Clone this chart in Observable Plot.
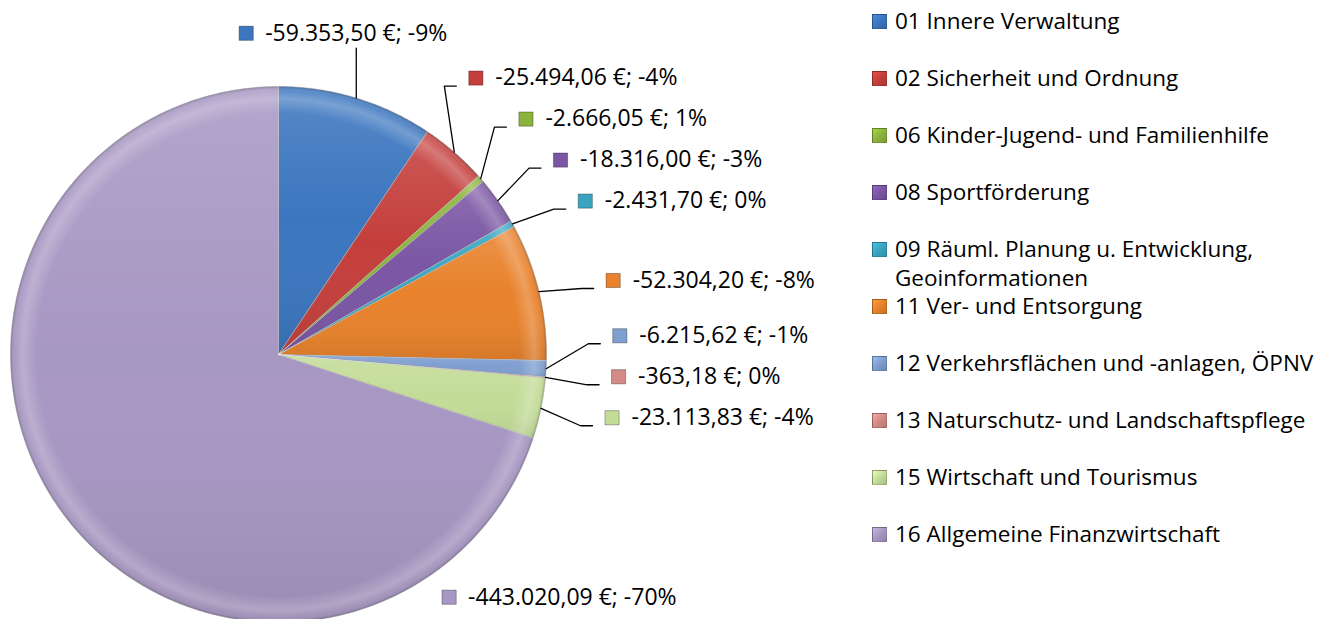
<!DOCTYPE html>
<html>
<head>
<meta charset="utf-8">
<script src="https://cdn.jsdelivr.net/npm/d3@7"></script>
<script src="https://cdn.jsdelivr.net/npm/@observablehq/plot@0.6"></script>
<style>
  html, body { margin: 0; padding: 0; background: #fff; }
  #chart { position: relative; width: 1318px; height: 619px; overflow: hidden; font-family: "Open Sans", sans-serif; }
  #chart svg { position: absolute; left: 0; top: 0; }
  .lg-item { position: absolute; left: 872px; line-height: 28.5px; font-size: 22.5px; color: #000; white-space: nowrap; }
  .lg-sw { position: absolute; left: 0; top: 7px; width: 15px; height: 15px; box-sizing: border-box; border: 1px solid rgba(0,0,0,0.25); }
  .lg-tx { margin-left: 23px; }
</style>
</head>
<body>
<div id="chart"></div>
<script>
// ---------- data ----------
const categories = [
  "01 Innere Verwaltung",
  "02 Sicherheit und Ordnung",
  "06 Kinder-Jugend- und Familienhilfe",
  "08 Sportförderung",
  "09 Räuml. Planung u. Entwicklung, Geoinformationen",
  "11 Ver- und Entsorgung",
  "12 Verkehrsflächen und -anlagen, ÖPNV",
  "13 Naturschutz- und Landschaftspflege",
  "15 Wirtschaft und Tourismus",
  "16 Allgemeine Finanzwirtschaft"
];
const values = [-59353.50, -25494.06, -2666.05, -18316.00, -2431.70, -52304.20, -6215.62, -363.18, -23113.83, -443020.09];
const percentLabels = [-9, -4, 1, -3, 0, -8, -1, 0, -4, -70];
const colors = ["#3b76bf", "#c43f3c", "#8cb43c", "#7a56a4", "#39a5c2", "#e8822c", "#7f9fd0", "#d48a87", "#c3dc98", "#a797c3"];

// ---------- layout constants (pixels) ----------
const W = 1318, H = 619, CX = 278, CY = 354, RPX = 268;
const FONT = 23, LEGEND_FONT = 22.5, LEGEND_TEXT_W = 425;
const px = n => n / RPX;

const loc = d3.formatLocale({decimal: ",", thousands: ".", grouping: [3], currency: ["", " €"], minus: "-"});
const fmt = loc.format(",.2f");

// ---------- slices ----------
const total = d3.sum(values, v => Math.abs(v));
let acc = 0;
const slices = values.map((v, i) => {
  const a0 = acc / total * 2 * Math.PI;
  acc += Math.abs(v);
  const a1 = acc / total * 2 * Math.PI;
  return {i, name: categories[i], value: v, pct: percentLabels[i], a0, a1, mid: (a0 + a1) / 2};
});
const slicePts = slices.flatMap(s => {
  const n = Math.max(2, Math.ceil((s.a1 - s.a0) / (Math.PI / 360)));
  const pts = [{name: s.name, x: 0, y: 0}];
  for (let j = 0; j <= n; j++) {
    const a = s.a0 + (s.a1 - s.a0) * j / n;
    pts.push({name: s.name, x: Math.sin(a), y: Math.cos(a)});
  }
  pts.push({name: s.name, x: 0, y: 0});
  return pts;
});

// ---------- labels (computed placement) ----------
const ctx = document.createElement("canvas").getContext("2d");
ctx.font = `${FONT}px 'Open Sans'`;
const overrides = {9: {angle: 142, r: 308}};
const labels = slices.map(s => ({...s, text: `${fmt(s.value)} €; ${s.pct}%`}));
const right = [];
const leaderPts = [];
labels.forEach(l => {
  const sx = Math.sin(l.mid), sy = Math.cos(l.mid);
  l.w = ctx.measureText(l.text).width;
  if (overrides[l.i]) {
    const o = overrides[l.i], a = o.angle * Math.PI / 180;
    l.tx = px(o.r) * Math.sin(a); l.ly = px(o.r) * Math.cos(a);
    l.sqx = l.tx - px(19);
  } else if (sx < 0.35 && sy > 0) {
    const yEnd = px(320) * sy;
    leaderPts.push({id: l.i, x: sx, y: sy}, {id: l.i, x: sx, y: yEnd});
    l.ly = yEnd + px(15);
    l.tx = sx - px(l.w / 2);
    l.sqx = l.tx - px(19);
  } else {
    l.idealY = (1 + px(47)) * sy;
    right.push(l);
  }
});
right.sort((a, b) => a.idealY - b.idealY);
let prev = -Infinity;
for (const l of right) {
  l.ly = Math.max(l.idealY, prev + px(41));
  prev = l.ly;
  const yEnd = l.ly - px(8);
  const xEnd = Math.sqrt(px(322) ** 2 - yEnd ** 2);
  leaderPts.push(
    {id: l.i, x: Math.sin(l.mid), y: Math.cos(l.mid)},
    {id: l.i, x: xEnd - px(12), y: yEnd},
    {id: l.i, x: xEnd, y: yEnd}
  );
  l.sqx = xEnd + px(19.5);
  l.tx = xEnd + px(39);
}

// ---------- plot ----------
const plot = Plot.plot({
  width: W, height: H, margin: 0,
  x: {domain: [-CX / RPX, (W - CX) / RPX], range: [0, W], axis: null},
  y: {domain: [-(H - CY) / RPX, CY / RPX], range: [H, 0], axis: null},
  color: {type: "ordinal", domain: categories, range: colors},
  style: {fontFamily: "'Open Sans', sans-serif", background: "transparent", overflow: "visible"},
  marks: [
    Plot.line(slicePts, {x: "x", y: "y", z: "name", fill: "name", stroke: "rgba(0,0,0,0.28)", strokeWidth: 0.8, curve: "linear"}),
    Plot.line(slicePts, {x: "x", y: "y", z: "name", fill: "url(#shade)", stroke: "none", curve: "linear"}),
    Plot.line(slicePts, {x: "x", y: "y", z: "name", fill: "url(#rim)", stroke: "rgba(255,255,255,0.35)", strokeWidth: 0.8, curve: "linear"}),
    Plot.line(leaderPts, {x: "x", y: "y", z: "id", stroke: "#000", strokeWidth: 1.3, curve: "linear"}),
    Plot.dot(labels, {x: "sqx", y: "ly", symbol: "square", r: 8, fill: "name", stroke: "rgba(0,0,0,0.3)", strokeWidth: 1}),
    Plot.text(labels, {x: "tx", y: "ly", text: "text", textAnchor: "start", fontSize: FONT, fill: "#000"})
  ]
});

// gradients for the bevel look
const xs = plot.scale("x"), ys = plot.scale("y");
const cxp = xs.apply(0), cyp = ys.apply(0), rp = xs.apply(1) - xs.apply(0);
const defs = d3.select(plot).insert("defs", ":first-child");
const lg = defs.append("linearGradient").attr("id", "shade").attr("x1", 0).attr("y1", 0).attr("x2", 0).attr("y2", 1);
[[0, "#fff", 0.14], [0.5, "#fff", 0], [1, "#000", 0.08]].forEach(([o, c, a]) =>
  lg.append("stop").attr("offset", o).attr("stop-color", c).attr("stop-opacity", a));
const rg = defs.append("radialGradient").attr("id", "rim").attr("gradientUnits", "userSpaceOnUse")
  .attr("cx", cxp).attr("cy", cyp).attr("r", rp);
[[0, "#fff", 0], [0.9, "#fff", 0], [0.955, "#fff", 0.22], [0.985, "#fff", 0.04], [1, "#000", 0.22]].forEach(([o, c, a]) =>
  rg.append("stop").attr("offset", o).attr("stop-color", c).attr("stop-opacity", a));

const chart = document.getElementById("chart");
chart.appendChild(plot);

// ---------- legend ----------
const lctx = document.createElement("canvas").getContext("2d");
lctx.font = `${LEGEND_FONT}px 'Open Sans'`;
function wrap(text) {
  const words = text.split(" ");
  const lines = [];
  let cur = "";
  for (const w of words) {
    const t = cur ? cur + " " + w : w;
    if (cur && lctx.measureText(t).width > LEGEND_TEXT_W) { lines.push(cur); cur = w; }
    else cur = t;
  }
  if (cur) lines.push(cur);
  return lines;
}
const color = plot.scale("color");
categories.forEach((c, i) => {
  const item = document.createElement("div");
  item.className = "lg-item";
  item.style.top = (21.5 + 57 * i - 14.25) + "px";
  const sw = document.createElement("div");
  sw.className = "lg-sw";
  const col = color.apply(c);
  sw.style.background = `linear-gradient(135deg, ${d3.color(col).brighter(0.5)}, ${col} 50%, ${d3.color(col).darker(0.4)})`;
  item.appendChild(sw);
  wrap(c).forEach(line => {
    const tx = document.createElement("div");
    tx.className = "lg-tx";
    tx.textContent = line;
    item.appendChild(tx);
  });
  chart.appendChild(item);
});
</script>
</body>
</html>
